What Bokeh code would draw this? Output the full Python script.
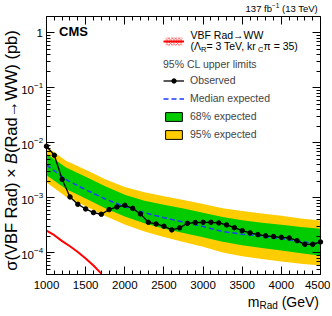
import math
from bokeh.plotting import figure
from bokeh.models import (Range1d, LinearAxis, LogAxis, FixedTicker, Label, Legend, LegendItem,
                          CustomJSTickFormatter)
from bokeh.embed import file_html
from bokeh.resources import INLINE

# ---------------- data ----------------
mass_obs = [1000, 1100, 1200, 1300, 1400, 1500, 1600, 1700, 1800, 1900,
            2000, 2100, 2200, 2300, 2400, 2500, 2600, 2700, 2800, 2900,
            3000, 3100, 3200, 3300, 3400, 3500, 3600, 3700, 3800, 3900,
            4000, 4100, 4200, 4300, 4400, 4500]
obs_limit = [8.67e-3, 5.95e-3, 2.18e-3, 1.04e-3, 7.65e-4, 6.3e-4, 5.4e-4, 5.04e-4, 6.12e-4, 6.85e-4,
             7.33e-4, 6.45e-4, 5.11e-4, 3.6e-4, 3.36e-4, 3.05e-4, 2.62e-4, 2.85e-4, 3.45e-4, 3.56e-4,
             3.6e-4, 3.6e-4, 3.51e-4, 3.23e-4, 2.88e-4, 2.54e-4, 2.31e-4, 2.15e-4, 2.04e-4, 1.98e-4,
             1.92e-4, 1.87e-4, 1.67e-4, 1.43e-4, 1.43e-4, 1.58e-4]

mass_exp = [1000, 1250, 1500, 1750, 2000, 2250, 2500, 2750, 3000, 3250, 3500, 3750, 4000, 4250, 4500]
exp_median = [3.98e-3, 2.14e-3, 1.41e-3, 9.55e-4, 6.92e-4, 5.37e-4, 4.37e-4, 3.63e-4, 3.02e-4, 2.45e-4,
              2.19e-4, 2.02e-4, 1.82e-4, 1.6e-4, 1.45e-4]
exp_68_hi = [6.31e-3, 3.55e-3, 2.43e-3, 1.62e-3, 1.14e-3, 8.91e-4, 7.5e-4, 6.38e-4, 5.37e-4, 4.47e-4,
             3.94e-4, 3.55e-4, 3.24e-4, 2.95e-4, 2.75e-4]
exp_68_lo = [2.57e-3, 1.45e-3, 9.77e-4, 6.46e-4, 4.57e-4, 3.47e-4, 2.75e-4, 2.29e-4, 1.93e-4, 1.6e-4,
             1.38e-4, 1.23e-4, 1.11e-4, 9.89e-5, 8.91e-5]
exp_95_hi = [8.51e-3, 4.73e-3, 3.24e-3, 2.19e-3, 1.58e-3, 1.26e-3, 1.07e-3, 9.12e-4, 7.76e-4, 6.46e-4,
             5.75e-4, 5.19e-4, 4.73e-4, 4.22e-4, 3.89e-4]
exp_95_lo = [1.91e-3, 1.05e-3, 7.08e-4, 4.68e-4, 3.27e-4, 2.45e-4, 1.95e-4, 1.58e-4, 1.29e-4, 1.02e-4,
             8.71e-5, 7.76e-5, 7.0e-5, 6.38e-5, 5.89e-5]

mass_theory = [1000, 1100, 1200, 1300, 1400, 1500, 1600, 1700]
theory_xsec = [2.54e-4, 2.1e-4, 1.64e-4, 1.32e-4, 1.04e-4, 7.9e-5, 5.9e-5, 4.2e-5]

x_ticks = [1000, 1500, 2000, 2500, 3000, 3500, 4000, 4500]
y_tick_exponents = [0, -1, -2, -3, -4]

# ---------------- layout constants ----------------
FONT = "Liberation Sans"
X_MIN, X_MAX = 1000, 4500          # plot box in data
Y_MIN, Y_MAX = 4e-5, 2.0
CW, CH = 330, 312                  # canvas size
BOX_L, BOX_R, BOX_T, BOX_B = 46.0, 320.0, 15.75, 274.3   # plot box in canvas pixels

gev_per_px = (X_MAX - X_MIN) / (BOX_R - BOX_L)
dec_per_px = math.log10(Y_MAX / Y_MIN) / (BOX_B - BOX_T)
x_lo = X_MIN - BOX_L * gev_per_px
x_hi = X_MIN + (CW - BOX_L) * gev_per_px
y_hi = Y_MAX * 10 ** (BOX_T * dec_per_px)
y_lo = Y_MIN / 10 ** ((CH - BOX_B) * dec_per_px)
PY_ONE = BOX_T + math.log10(Y_MAX) / dec_per_px    # pixel row of y = 1

C_YELLOW = "#ffcc00"
C_GREEN = "#00cc00"
C_BLUE = "#1e3cff"

p = figure(width=CW, height=CH,
           x_range=Range1d(x_lo, x_hi), y_range=Range1d(y_lo, y_hi),
           y_axis_type="log", output_backend="svg", toolbar_location=None,
           min_border_left=0, min_border_right=0, min_border_top=0, min_border_bottom=0)
p.grid.visible = False
p.outline_line_color = None
p.background_fill_color = "white"
p.border_fill_color = "white"

x_minor = [m for m in range(X_MIN, X_MAX + 1, 100) if m % 500]
y_major = [10.0 ** e for e in y_tick_exponents]
y_minor = [k * 10.0 ** e for e in range(-5, 1) for k in range(2, 10) if Y_MIN <= k * 10.0 ** e <= Y_MAX]
xt = FixedTicker(ticks=x_ticks, minor_ticks=x_minor)
yt = FixedTicker(ticks=y_major, minor_ticks=y_minor)


def style_axis(ax, ticker, loc, bounds, labels=False):
    ax.ticker = ticker
    ax.fixed_location = loc
    ax.bounds = bounds
    ax.axis_line_color = "black"
    ax.axis_line_width = 1
    ax.major_tick_in = 8
    ax.major_tick_out = 0
    ax.minor_tick_in = 4
    ax.minor_tick_out = 0
    ax.major_tick_line_color = "black"
    ax.minor_tick_line_color = "black"
    ax.axis_label = None
    if labels:
        ax.major_label_text_font = FONT
        ax.major_label_text_font_size = "11.5px"
        ax.major_label_text_color = "black"
        ax.major_label_standoff = 6
    else:
        ax.formatter = CustomJSTickFormatter(code="return ''")
        ax.major_label_text_font_size = "1px"
        ax.major_label_standoff = 0


style_axis(p.xaxis[0], xt, Y_MIN, (X_MIN, X_MAX), labels=True)
style_axis(p.yaxis[0], yt, X_MIN, (Y_MIN, Y_MAX))
top_ax = LinearAxis()
style_axis(top_ax, xt, Y_MAX, (X_MIN, X_MAX))
p.add_layout(top_ax, "above")
right_ax = LogAxis()
style_axis(right_ax, yt, X_MAX, (Y_MIN, Y_MAX))
p.add_layout(right_ax, "right")

# ---------------- glyphs ----------------
p.varea(x=mass_exp, y1=exp_95_lo, y2=exp_95_hi, fill_color=C_YELLOW)
p.varea(x=mass_exp, y1=exp_68_lo, y2=exp_68_hi, fill_color=C_GREEN)
med_r = p.line(mass_exp, exp_median, line_color=C_BLUE, line_width=1.5, line_dash="5 3")
theory_r = p.line(mass_theory, theory_xsec, line_color="#ff0000", line_width=2)
obs_line = p.line(mass_obs, obs_limit, line_color="black", line_width=1.3)
obs_pts = p.scatter(mass_obs, obs_limit, size=4.5, color="black")

# hidden proxies that give the legend its boxed swatches
hatch_box = p.quad(left=mass_theory[:-1], right=mass_theory[1:], top=theory_xsec[:-1], bottom=theory_xsec[1:],
                   fill_color="white", hatch_pattern="diagonal_cross", hatch_color="#ff0000",
                   hatch_scale=3.5, hatch_weight=0.7, line_color=None, visible=False)
green_box = p.quad(left=mass_exp[:-1], right=mass_exp[1:], top=exp_68_hi[:-1], bottom=exp_68_lo[:-1],
                   fill_color=C_GREEN, line_color="black", line_width=1, visible=False)
yellow_box = p.quad(left=mass_exp[:-1], right=mass_exp[1:], top=exp_95_hi[:-1], bottom=exp_95_lo[:-1],
                    fill_color=C_YELLOW, line_color="black", line_width=1, visible=False)

leg1 = Legend(items=[LegendItem(label=" ", renderers=[hatch_box, theory_r])],
              location=(163, CH - 46), padding=0, margin=0, spacing=0,
              glyph_width=21, glyph_height=10, label_height=10, label_standoff=6,
              label_text_font=FONT, label_text_font_size="4px",
              border_line_alpha=0, background_fill_alpha=0, inactive_fill_alpha=0)
leg2 = Legend(title="95% CL upper limits",
              items=[LegendItem(label="Observed", renderers=[obs_line, obs_pts]),
                     LegendItem(label="Median expected", renderers=[med_r]),
                     LegendItem(label="68% expected", renderers=[green_box]),
                     LegendItem(label="95% expected", renderers=[yellow_box])],
              location=(163, CH - 140), padding=0, margin=0, spacing=6,
              glyph_width=21, glyph_height=11, label_height=12, label_standoff=6,
              label_text_font=FONT, label_text_font_size="10.5px",
              title_text_font=FONT, title_text_font_size="10.5px", title_text_font_style="normal",
              title_standoff=4, border_line_alpha=0, background_fill_alpha=0, inactive_fill_alpha=0)
p.add_layout(leg1)
p.add_layout(leg2)

# ---------------- text ----------------
W = {" ": 278, "(": 333, ")": 333, "=": 584, ",": 278, "A": 667, "B": 667, "C": 722, "F": 611,
     "G": 778, "R": 722, "T": 611, "V": 667, "W": 944, "a": 556, "b": 556, "d": 556, "e": 556,
     "f": 278, "k": 500, "m": 833, "p": 556, "r": 333, "Λ": 667, "π": 556, "σ": 600,
     "×": 584, "→": 1000, "−": 584}


def tw(s, size):
    return sum(W.get(c, 556) for c in s) * size / 1000.0


def put(text, px, py, size, align="left", baseline="middle", style="normal", angle=0.0,
        y=1.0, py0=PY_ONE):
    p.add_layout(Label(x=X_MIN, y=y, x_offset=px - BOX_L, y_offset=py0 - py, text=text,
                       text_font=FONT, text_font_size=f"{size}px", text_font_style=style,
                       text_align=align, text_baseline=baseline, angle=angle,
                       angle_units="deg", text_color="black"))


# y tick labels (anchored to the tick values)
for e in y_tick_exponents:
    if e == 0:
        put("1", 42.5, 0, 11.5, align="right", y=1.0, py0=0)
    else:
        put("10", 33.5, 2.4, 11.5, align="right", y=10.0 ** e, py0=0)
        put(f"−{-e}", 33.5, -2.8, 8, align="left", y=10.0 ** e, py0=0)

# CMS + lumi
put("CMS", 58.5, 31.2, 13, style="bold")
lumi_a, lumi_b, lumi_c = "137 fb", "−1", "(13 TeV)"
xe = 318.5
xc = xe - tw(lumi_c, 9.5)
xb = xc - tw(" ", 9.5) - tw(lumi_b, 6.5)
put(lumi_c, xc, 8, 9.5)
put(lumi_b, xb, 5, 6.5)
put(lumi_a, xb, 8, 9.5, align="right")

# x axis title
xt_end = 318.5
xg = xt_end - tw("(GeV)", 14)
xs = xg - tw(" ", 14) - tw("Rad", 10)
put("(GeV)", xg, 301, 14)
put("Rad", xs, 305, 10)
put("m", xs, 301, 14, align="right")

# y axis title (rotated, reading upwards)
YT_SIZE = 16.5
yt_parts = [("σ(VBF Rad) × ", "normal"), ("B", "italic"), ("(Rad→WW) (pb)", "normal")]
ypos = 150 + sum(tw(s, YT_SIZE) for s, _ in yt_parts) / 2
for s, st in yt_parts:
    put(s, 10.5, ypos, YT_SIZE, style=st, angle=90)
    ypos -= tw(s, YT_SIZE)

# theory legend text
put("VBF Rad→WW", 190, 34.5, 10.5)
pieces = [("(Λ", 10.5, 0), ("R", 7.5, 3), ("= 3 TeV, kr", 10.5, 0), ("C", 7.5, 3), ("π = 35)", 10.5, 0)]
xp = 190
for s, sz, dy in pieces:
    put(s, xp, 45.8 + dy, sz)
    xp += tw(s, sz)

open("out.html", "w").write(file_html(p, INLINE))
